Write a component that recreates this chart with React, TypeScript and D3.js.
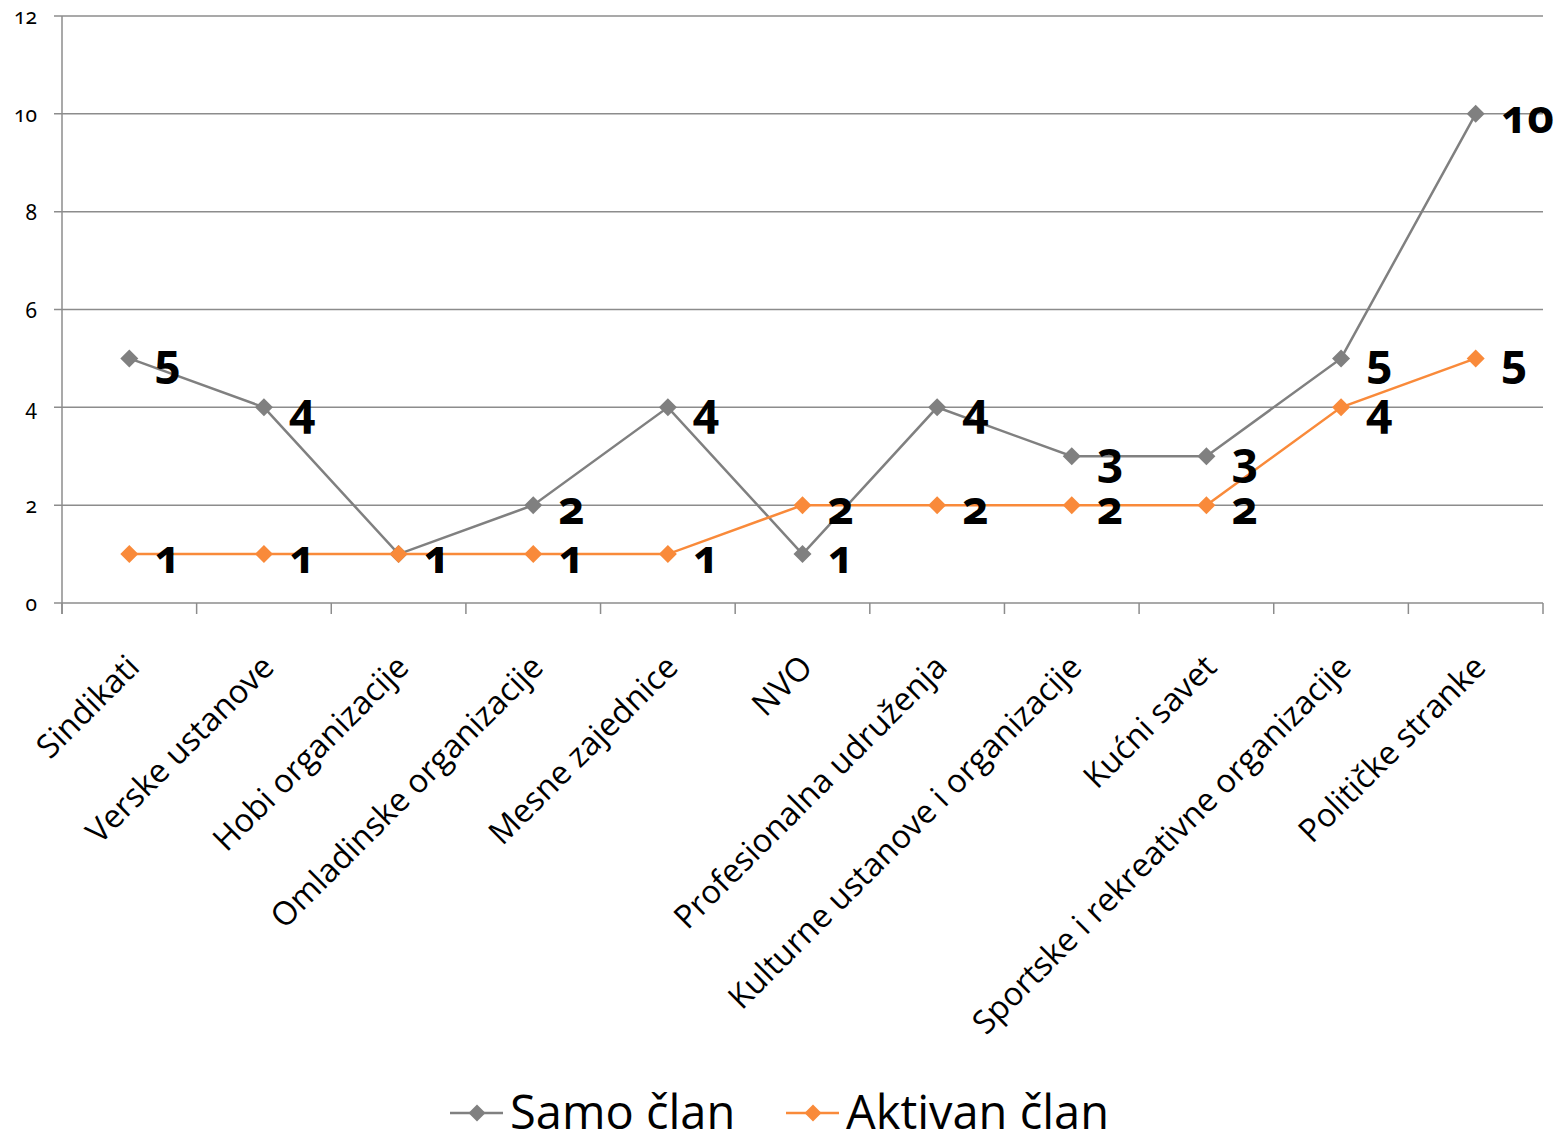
import React, { useEffect, useRef } from "react";
import * as d3 from "d3";

const categories = [
  "Sindikati",
  "Verske ustanove",
  "Hobi organizacije",
  "Omladinske organizacije",
  "Mesne zajednice",
  "NVO",
  "Profesionalna udruženja",
  "Kulturne ustanove i organizacije",
  "Kućni savet",
  "Sportske i rekreativne organizacije",
  "Političke stranke",
];
const samoClan = [5, 4, 1, 2, 4, 1, 4, 3, 3, 5, 10];
const aktivanClan = [1, 1, 1, 1, 1, 2, 2, 2, 2, 4, 5];
const yTicks = [0, 2, 4, 6, 8, 10, 12];
const seriesNames = ["Samo član", "Aktivan član"];

const W = 1558;
const H = 1134;
const GRAY = "#808080";
const ORANGE = "#F98A3A";
const GRID = "#8c8c8c";
const FONT = "'Open Sans', sans-serif";
const NUMFONT = "'Noto Sans', sans-serif";

export default function App() {
  const ref = useRef<SVGSVGElement>(null);
  useEffect(() => {
    const svg = d3.select(ref.current);
    svg.selectAll("*").remove();
    const x0 = 62, x1 = 1543, yTop = 16, yBot = 603;
    const xb = d3.scaleBand<string>().domain(categories).range([x0, x1]);
    const cx = (c: string) => (xb(c) as number) + xb.bandwidth() / 2;
    const y = d3.scaleLinear().domain([0, 12]).range([yBot, yTop]);

    svg.append("g").selectAll("line").data(yTicks).join("line")
      .attr("x1", x0 - 8).attr("x2", x1)
      .attr("y1", (d) => y(d)).attr("y2", (d) => y(d))
      .attr("stroke", GRID).attr("stroke-width", 1.5);
    svg.append("line").attr("x1", x0).attr("x2", x0).attr("y1", yTop).attr("y2", yBot + 11)
      .attr("stroke", GRID).attr("stroke-width", 1.5);
    const bounds = categories.map((c) => xb(c) as number).concat([x1]);
    svg.append("g").selectAll("line").data(bounds).join("line")
      .attr("x1", (d) => d).attr("x2", (d) => d)
      .attr("y1", yBot).attr("y2", yBot + 11)
      .attr("stroke", GRID).attr("stroke-width", 1.5);

    svg.append("g").selectAll("text").data(yTicks).join("text")
      .attr("x", 37).attr("y", (d) => y(d) + 8)
      .attr("text-anchor", "end")
      .attr("font-family", NUMFONT).attr("font-size", 21)
      .style("font-variant-numeric", "oldstyle-nums")
      .style("font-feature-settings", "'onum' 1")
      .attr("fill", "#000")
      .text((d) => String(d));

    svg.append("g").selectAll("text").data(categories).join("text")
      .attr("transform", (d) => `translate(${cx(d) + 12},${yBot + 66}) rotate(-45)`)
      .attr("text-anchor", "end")
      .attr("font-family", FONT).attr("font-size", 32.5)
      .attr("fill", "#000")
      .text((d) => d);

    const series = [
      { name: seriesNames[0], values: samoClan, color: GRAY },
      { name: seriesNames[1], values: aktivanClan, color: ORANGE },
    ];
    const line = d3.line<number>().x((_, i) => cx(categories[i])).y((d) => y(d));
    const diamond = (px: number, py: number, r: number) =>
      `M${px},${py - r}L${px + r},${py}L${px},${py + r}L${px - r},${py}Z`;

    series.forEach((s) => {
      const g = svg.append("g");
      g.append("path").attr("d", line(s.values) as string)
        .attr("fill", "none").attr("stroke", s.color).attr("stroke-width", 2.5);
      g.selectAll("path.m").data(s.values).join("path").attr("class", "m")
        .attr("d", (d, i) => diamond(cx(categories[i]), y(d), 9))
        .attr("fill", s.color);
    });
    series.forEach((s) => {
      svg.append("g").selectAll("text").data(s.values).join("text")
        .attr("x", (_, i) => cx(categories[i]) + 25)
        .attr("y", (d) => y(d) + 19)
        .attr("font-family", NUMFONT).attr("font-size", 46).attr("font-weight", 700)
        .style("font-variant-numeric", "oldstyle-nums")
        .style("font-feature-settings", "'onum' 1")
        .attr("fill", "#000")
        .text((d) => String(d));
    });

    const leg = [
      { name: seriesNames[0], color: GRAY, lx: 450 },
      { name: seriesNames[1], color: ORANGE, lx: 786 },
    ];
    const ly = 1113;
    leg.forEach((l) => {
      svg.append("line").attr("x1", l.lx).attr("x2", l.lx + 53).attr("y1", ly).attr("y2", ly)
        .attr("stroke", l.color).attr("stroke-width", 2.5);
      svg.append("path").attr("d", diamond(l.lx + 27, ly, 8.5)).attr("fill", l.color);
      svg.append("text").attr("x", l.lx + 60).attr("y", 1129)
        .attr("font-family", FONT).attr("font-size", 47).attr("fill", "#000")
        .text(l.name);
    });
  }, []);
  return (
    <svg ref={ref} width={W} height={H}
      style={{ position: "absolute", left: 0, top: 0, background: "#fff" }} />
  );
}
